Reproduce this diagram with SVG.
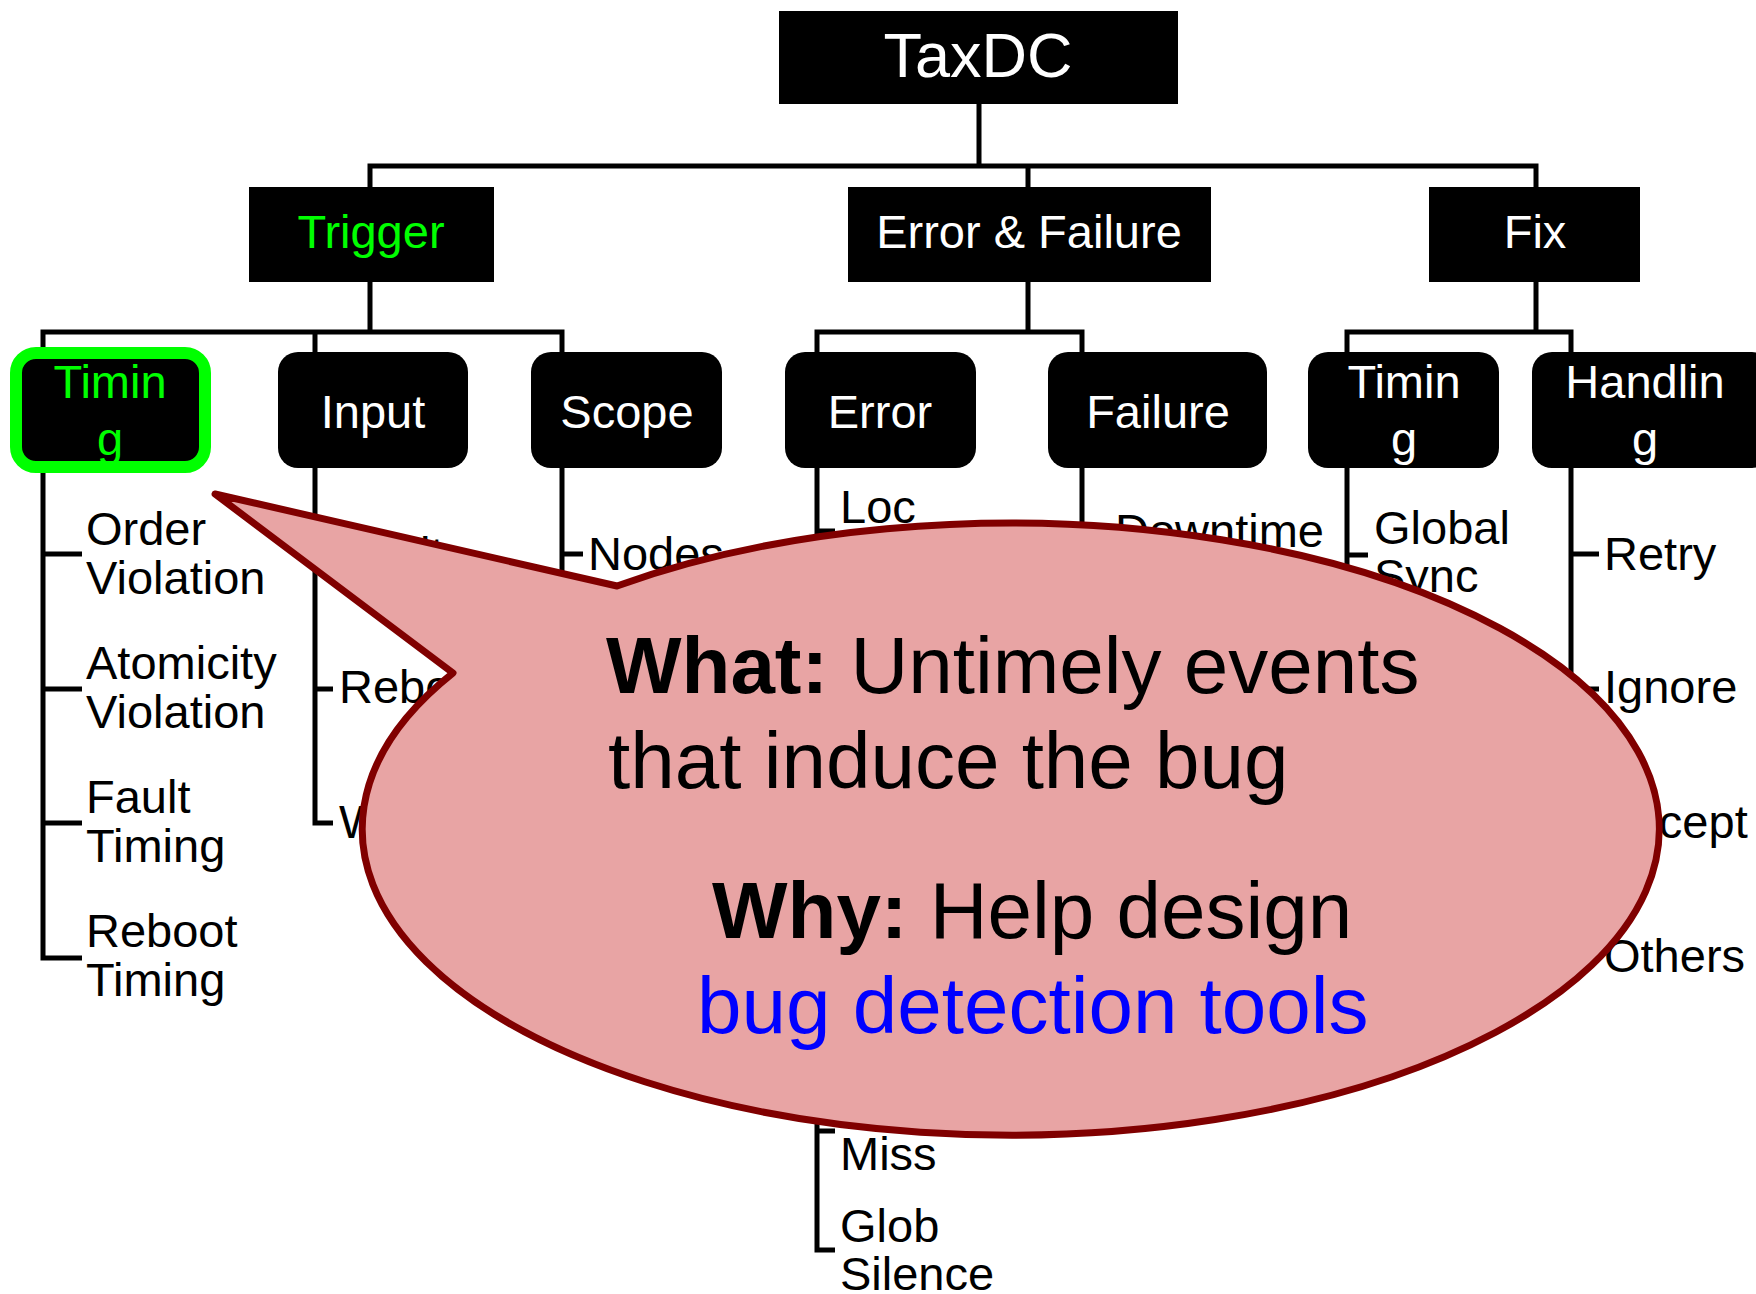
<svg xmlns="http://www.w3.org/2000/svg" width="1756" height="1294" viewBox="0 0 1756 1294">
  <style>
    text { font-family: "Liberation Sans", Arial, Helvetica, sans-serif; }
    .box { fill: #000; }
    .head { fill: #fff; font-size: 47px; text-anchor: middle; }
    .hot { fill: #00ff00; }
    .item { fill: #000; font-size: 47px; }
    .conn { stroke: #000; stroke-width: 5; fill: none; stroke-linecap: butt; }
    .say { font-size: 80px; fill: #000; }
    .say .b { font-weight: bold; }
    .blue { fill: #0000ff; }
  </style>

  <rect width="1756" height="1294" fill="#fff"/>

  <!-- tree connectors -->
  <g id="connectors" class="conn">
    <!-- root to first level -->
    <path d="M979 104 V166 M367.5 166 H1538.5 M370 166 V187 M1028 166 V187 M1536 166 V187"/>
    <!-- Trigger -->
    <path d="M370 282 V332 M40.5 332 H564.5 M43 332 V353 M315 332 V353 M562 332 V353"/>
    <!-- Error & Failure -->
    <path d="M1028 282 V332 M814.5 332 H1084.5 M817 332 V353 M1082 332 V353"/>
    <!-- Fix -->
    <path d="M1536 282 V332 M1344.5 332 H1573.5 M1347 332 V353 M1571 332 V353"/>

    <!-- Trigger / Timing list -->
    <path d="M43 470 V958 H82 M43 554 H82 M43 689 H82 M43 823 H82"/>
    <!-- Trigger / Input list -->
    <path d="M315 468 V823 H333 M315 554 H333 M315 689 H333"/>
    <!-- Trigger / Scope list -->
    <path d="M562 468 V823 H583 M562 554 H583"/>
    <!-- Error list -->
    <path d="M817 468 V1250 H835 M817 531 H835 M817 1131 H835"/>
    <!-- Failure list -->
    <path d="M1082 468 V890 H1106 M1082 532 H1106"/>
    <!-- Fix / Timing list -->
    <path d="M1347 468 V689 H1368 M1347 555 H1368"/>
    <!-- Fix / Handling list -->
    <path d="M1571 468 V958 H1599 M1571 554 H1599 M1571 689 H1599 M1571 823 H1599"/>
  </g>

  <!-- root -->
  <g id="taxdc">
    <rect class="box" x="779" y="11" width="399" height="93"/>
    <text class="head" x="978" y="77" style="font-size:63px">TaxDC</text>
  </g>

  <!-- first level -->
  <g id="trigger">
    <rect class="box" x="249" y="187" width="245" height="95"/>
    <text class="head hot" x="371" y="248">Trigger</text>
  </g>
  <g id="error-failure">
    <rect class="box" x="848" y="187" width="363" height="95"/>
    <text class="head" x="1029" y="248">Error &amp; Failure</text>
  </g>
  <g id="fix">
    <rect class="box" x="1429" y="187" width="211" height="95"/>
    <text class="head" x="1535" y="248">Fix</text>
  </g>

  <!-- second level -->
  <g id="trigger-timing">
    <rect class="box" x="16" y="353" width="189" height="114" rx="20"/>
    <text class="head hot" x="110" y="398">Timin</text>
    <text class="head hot" x="110" y="455">g</text>
    <rect x="16" y="353" width="189" height="114" rx="20" fill="none" stroke="#00ff00" stroke-width="12"/>
  </g>
  <g id="trigger-input">
    <rect class="box" x="278" y="352" width="190" height="116" rx="20"/>
    <text class="head" x="373" y="428">Input</text>
  </g>
  <g id="trigger-scope">
    <rect class="box" x="531" y="352" width="191" height="116" rx="20"/>
    <text class="head" x="627" y="428">Scope</text>
  </g>
  <g id="ef-error">
    <rect class="box" x="785" y="352" width="191" height="116" rx="20"/>
    <text class="head" x="880" y="428">Error</text>
  </g>
  <g id="ef-failure">
    <rect class="box" x="1048" y="352" width="219" height="116" rx="20"/>
    <text class="head" x="1158" y="428">Failure</text>
  </g>
  <g id="fix-timing">
    <rect class="box" x="1308" y="352" width="191" height="116" rx="20"/>
    <text class="head" x="1404" y="398">Timin</text>
    <text class="head" x="1404" y="455">g</text>
  </g>
  <g id="fix-handling">
    <rect class="box" x="1532" y="352" width="240" height="116" rx="20"/>
    <text class="head" x="1645" y="398">Handlin</text>
    <text class="head" x="1645" y="455">g</text>
  </g>

  <!-- leaf labels -->
  <g id="timing-items" class="item">
    <text x="86" y="545">Order</text><text x="86" y="594">Violation</text>
    <text x="86" y="679">Atomicity</text><text x="86" y="728">Violation</text>
    <text x="86" y="813">Fault</text><text x="86" y="862">Timing</text>
    <text x="86" y="947">Reboot</text><text x="86" y="996">Timing</text>
  </g>
  <g id="input-items" class="item">
    <text x="339" y="570">Fault</text>
    <text x="339" y="703">Reboot</text>
    <text x="339" y="838">Workload</text>
  </g>
  <g id="scope-items" class="item">
    <text x="588" y="570">Nodes</text>
  </g>
  <g id="error-items" class="item">
    <text x="840" y="523">Loc</text>
    <text x="840" y="1170">Miss</text>
    <text x="840" y="1242">Glob</text><text x="840" y="1290">Silence</text>
  </g>
  <g id="failure-items" class="item">
    <text x="1115" y="547">Downtime</text>
  </g>
  <g id="fix-timing-items" class="item">
    <text x="1374" y="544">Global</text><text x="1374" y="592">Sync</text>
  </g>
  <g id="handling-items" class="item">
    <text x="1604" y="570">Retry</text>
    <text x="1604" y="703">Ignore</text>
    <text x="1604" y="838">Accept</text>
    <text x="1604" y="972">Others</text>
  </g>

  <!-- callout bubble -->
  <g id="callout">
    <path d="M617 586 L215 494 L453 673 A648.5 306 0 1 0 617 586 Z" fill="#e8a4a4" stroke="#800000" stroke-width="7" stroke-linejoin="round"/>
    <text class="say" x="606" y="693"><tspan class="b">What:</tspan> Untimely events</text>
    <text class="say" x="608" y="788">that induce the bug</text>
    <text class="say" x="712" y="938"><tspan class="b">Why:</tspan> Help design</text>
    <text class="say blue" x="697" y="1033">bug detection tools</text>
  </g>
</svg>
